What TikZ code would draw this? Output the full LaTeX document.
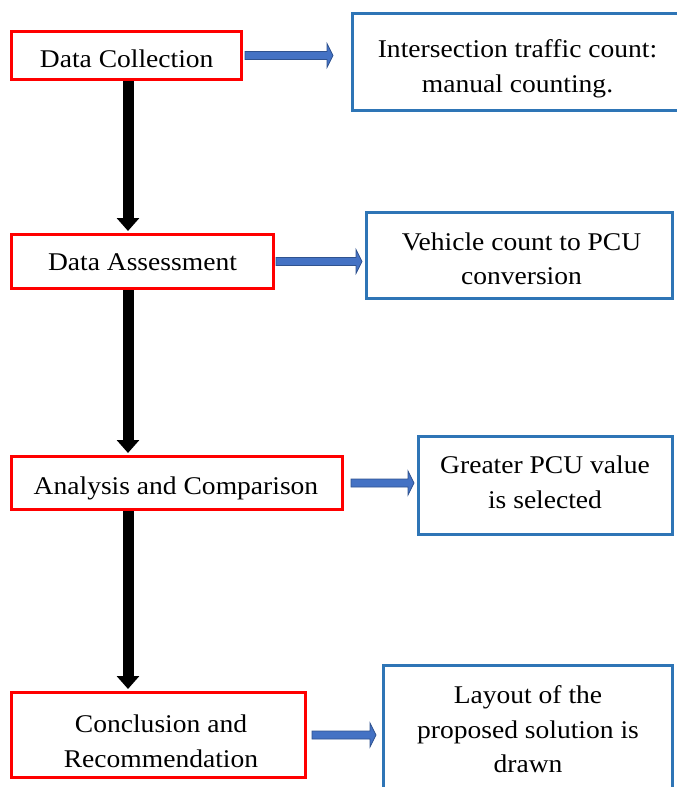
\documentclass[tikz,border=0pt]{standalone}
\usepackage{fontspec}
\setmainfont{Liberation Serif}[FakeStretch=1.08]
\usetikzlibrary{arrows.meta,calc}

\definecolor{stepred}{RGB}{255,0,0}
\definecolor{noteblue}{RGB}{46,117,182}
\definecolor{arrowfill}{RGB}{68,114,196}
\definecolor{arrowedge}{RGB}{47,82,143}

% horizontal block arrow from #1 to #2 (y taken from #1)
\newcommand{\blockarrow}[2]{%
  \path let \p1=(#1), \p2=(#2) in
    [fill=arrowfill, draw=arrowedge, line width=0.8pt, line join=miter]
    (\x1,\y1+4pt) -- (\x2-6pt,\y1+4pt) -- (\x2-6pt,\y1+12pt) -- (\x2,\y1)
    -- (\x2-6pt,\y1-12pt) -- (\x2-6pt,\y1-4pt) -- (\x1,\y1-4pt) -- cycle;}

\begin{document}
\begin{tikzpicture}[x=1pt,y=-1pt,
  stepbox/.style={draw=stepred, line width=3pt, fill=none, inner sep=0pt},
  notebox/.style={draw=noteblue, line width=3pt, fill=none, inner sep=0pt},
  label/.style={inner sep=0pt, align=center, font=\fontsize{25.5}{34.5}\selectfont},
  flow/.style={line width=11pt, black, -{Triangle[width=22pt,length=13pt]}, shorten >=2pt}
]
\useasboundingbox (0,0) rectangle (677,787);

% process steps (red)
\node[stepbox, minimum width=230pt, minimum height=48pt] (r1) at (126.5,55.5) {};
\node[stepbox, minimum width=262pt, minimum height=54pt] (r2) at (142.5,261.5) {};
\node[stepbox, minimum width=331pt, minimum height=53pt] (r3) at (177,483) {};
\node[stepbox, minimum width=294pt, minimum height=85pt] (r4) at (158.5,735) {};

\node[label, anchor=base] (t1) at (126.7,67.3) {Data Collection};
\node[label, anchor=base] (t2) at (142.5,270.7) {Data Assessment};
\node[label, anchor=base] (t3) at (176,494) {Analysis and Comparison};
\node[label, anchor=north] (t4) at (161,714.6) {Conclusion and\\Recommendation};

% outcomes (blue)
\node[notebox, minimum width=326pt, minimum height=97pt] (b1) at (515.5,62) {};
\node[notebox, minimum width=306pt, minimum height=86pt] (b2) at (519.5,255.5) {};
\node[notebox, minimum width=254pt, minimum height=98pt] (b3) at (545.5,485.5) {};
\node[notebox, minimum width=289pt, minimum height=143pt] (b4) at (528,737) {};

\node[label, anchor=north] (u1) at (517.5,39.6) {Intersection traffic count:\\manual counting.};
\node[label, anchor=north] (u2) at (521.5,232.6) {Vehicle count to PCU\\conversion};
\node[label, anchor=north] (u3) at (545,455.9) {Greater PCU value\\is selected};
\node[label, anchor=north] (u4) at (528,685.6) {Layout of the\\proposed solution is\\drawn};

% main flow down the left side
\coordinate (spine) at (128,0);
\draw[flow] (r1.south -| spine) -- (r2.north -| spine);
\draw[flow] (r2.south -| spine) -- (r3.north -| spine);
\draw[flow] (r3.south -| spine) -- (r4.north -| spine);

% step to outcome arrows
\blockarrow{$(r1.east)+(2,0)$}{$(b1.west)+(-18,0)$}
\blockarrow{$(r2.east)+(1,0)$}{$(b2.west)+(-3,0)$}
\blockarrow{$(r3.east)+(7,0)$}{$(b3.west)+(-3,0)$}
\blockarrow{$(r4.east)+(5,0)$}{$(b4.west)+(-6,0)$}
\end{tikzpicture}
\end{document}
